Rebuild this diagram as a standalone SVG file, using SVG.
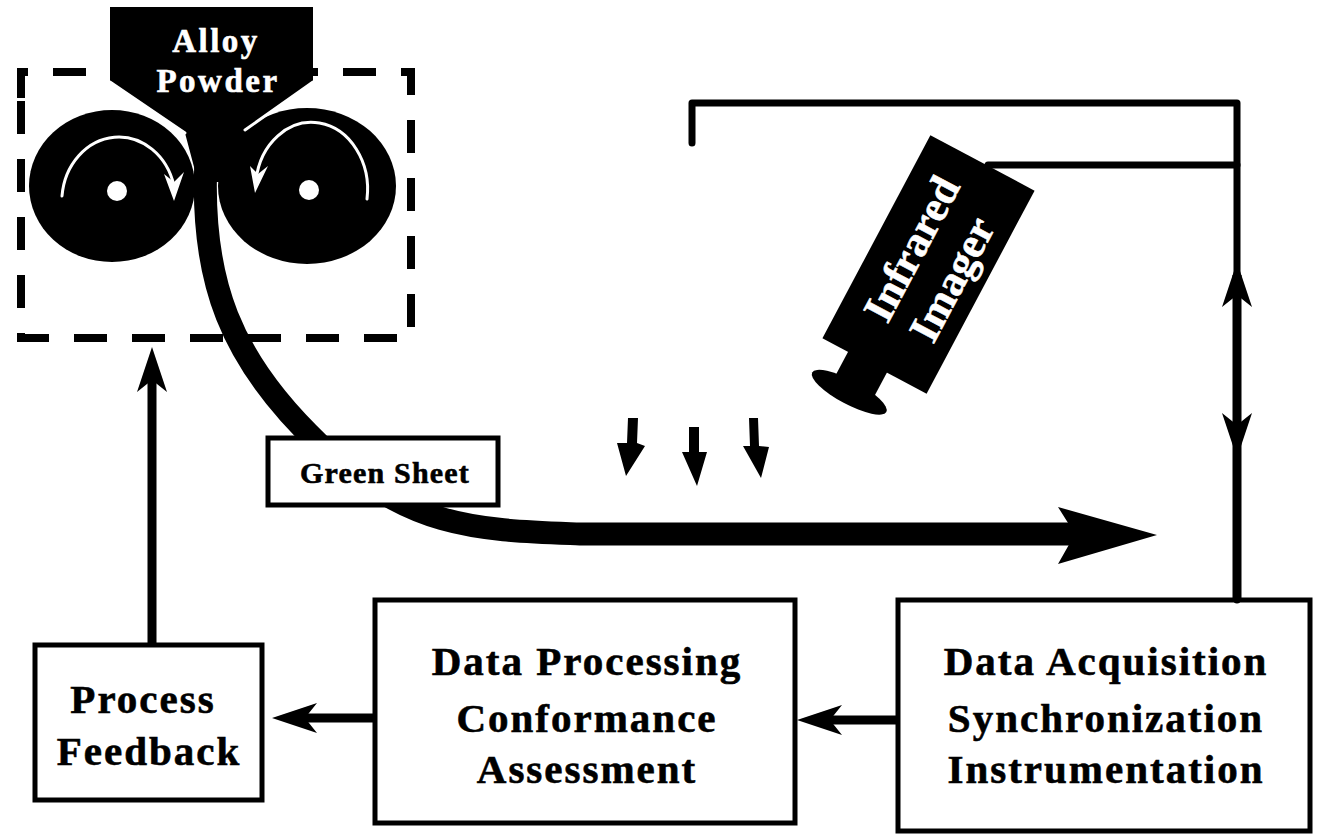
<svg xmlns="http://www.w3.org/2000/svg" xmlns:xlink="http://www.w3.org/1999/xlink" width="1319" height="835" viewBox="0 0 1319 835">
  <style>
    .box { fill: #fff; stroke: #000; stroke-width: 5; }
    .lbl { font-family: "Liberation Serif", "Times New Roman", serif; font-weight: bold; text-anchor: middle; fill: #000; stroke: #000; stroke-width: 0.6; }
    .inv { fill: #fff; stroke: #fff; }
    .big { font-size: 41px; letter-spacing: 2px; }
    .wire { fill: none; stroke: #000; stroke-width: 7; stroke-linecap: round; stroke-linejoin: round; }
    .shaft { fill: none; stroke: #000; stroke-width: 9; }
    .white { fill: none; stroke: #fff; stroke-width: 3; stroke-linecap: round; }
  </style>
  <defs>
    <!-- arrowhead pointing along +x, tip at origin -->
    <path id="head" d="M0 0 L-45 -15 L-33 0 L-45 15 Z" fill="#000"/>
  </defs>
  <rect width="1319" height="835" fill="#fff"/>

  <!-- roll compaction station -->
  <g id="roll-station">
    <path d="M21 98 L21 72 L411 72 L411 338 L21 338 Z" fill="none" stroke="#000" stroke-width="8" stroke-dasharray="33 25"/>
    <ellipse cx="112" cy="186" rx="83" ry="76" fill="#000"/>
    <ellipse cx="307" cy="186" rx="89" ry="78" fill="#000"/>
    <circle cx="117" cy="191" r="10" fill="#fff"/>
    <circle cx="309" cy="190" r="10" fill="#fff"/>
    <!-- rotation arrows -->
    <path class="white" d="M62 196 A57 65 0 0 1 174 186"/>
    <path d="M174 201 L164 174 L174 182 L184 172 Z" fill="#fff"/>
    <path class="white" d="M367 199 A56 67 0 0 0 256 180"/>
    <path d="M255 193 L250 166 L258 174 L268 166 Z" fill="#fff"/>
  </g>

  <!-- powder hopper -->
  <g id="hopper">
    <polygon points="110,7 313,7 313,82 245,130 224,182 198,182 185,133 110,82" fill="#000"/>
    <line class="white" x1="110" y1="82" x2="185" y2="133"/>
    <line class="white" x1="313" y1="82" x2="245" y2="130"/>
    <text class="lbl inv" x="216" y="52" font-size="33" letter-spacing="2.5">Alloy</text>
    <text class="lbl inv" x="218" y="92" font-size="33" letter-spacing="2.5">Powder</text>
  </g>

  <!-- green sheet leaving the rolls -->
  <g id="sheet">
    <path d="M206 160 C200 280 230 360 320 445 S480 530 580 534 L1078 534" fill="none" stroke="#000" stroke-width="23"/>
    <path d="M1157 535 L1058 507 L1075 534 L1058 564 Z" fill="#000"/>
  </g>

  <g id="green-sheet-label">
    <rect class="box" x="268" y="438" width="230" height="67"/>
    <text class="lbl" x="385" y="483" font-size="30" letter-spacing="1.2">Green Sheet</text>
  </g>

  <!-- heat flux arrows -->
  <g id="heat">
    <polygon points="628,418 638,418 637,443 645,446 626,476 617,443 627,443" fill="#000"/>
    <polygon points="689,427 699,427 699,452 707,452 697,486 682,452 689,452" fill="#000"/>
    <polygon points="749,418 758,418 759,446 769,447 761,478 743,446 750,446" fill="#000"/>
  </g>

  <!-- infrared imager -->
  <g id="imager" transform="translate(928.5 264.5) rotate(28)">
    <rect x="-59" y="-115" width="118" height="230" fill="#000"/>
    <rect x="-30" y="110" width="44" height="34" fill="#000"/>
    <ellipse cx="-10" cy="150" rx="42" ry="12" fill="#000"/>
    <g transform="rotate(-90)">
      <text class="lbl inv" x="6" y="-8" font-size="43">Infrared</text>
      <text class="lbl inv" x="-2" y="42" font-size="43">Imager</text>
    </g>
  </g>

  <!-- process blocks -->
  <g id="process-feedback">
    <rect class="box" x="35" y="645" width="227" height="155"/>
    <text class="lbl big" x="143" y="713">Process</text>
    <text class="lbl big" x="149" y="765">Feedback</text>
  </g>

  <g id="data-processing">
    <rect class="box" x="375" y="600" width="420" height="223"/>
    <text class="lbl big" x="587" y="675">Data Processing</text>
    <text class="lbl big" x="587" y="732">Conformance</text>
    <text class="lbl big" x="587" y="783">Assessment</text>
  </g>

  <g id="data-acquisition">
    <rect class="box" x="898" y="600" width="412" height="231"/>
    <text class="lbl big" x="1106" y="675">Data Acquisition</text>
    <text class="lbl big" x="1106" y="732">Synchronization</text>
    <text class="lbl big" x="1106" y="783">Instrumentation</text>
  </g>

  <!-- connectors -->
  <g id="connectors">
    <!-- trigger / camera wiring -->
    <path class="wire" d="M692 143 L692 103 L1237 103 L1237 600"/>
    <path class="wire" d="M988 165 L1237 165"/>
    <line x1="1237" y1="275" x2="1237" y2="600" stroke="#000" stroke-width="9"/>
    <use xlink:href="#head" transform="translate(1237 262) rotate(-90)"/>
    <use xlink:href="#head" transform="translate(1237 458) rotate(90)"/>
    <!-- acquisition to processing -->
    <line class="shaft" x1="815" y1="720" x2="898" y2="720"/>
    <use xlink:href="#head" transform="translate(797 720) rotate(180)"/>
    <!-- processing to feedback -->
    <line class="shaft" x1="290" y1="718" x2="375" y2="718"/>
    <use xlink:href="#head" transform="translate(272 718) rotate(180)"/>
    <!-- feedback to roll station -->
    <line class="shaft" x1="152" y1="365" x2="152" y2="645"/>
    <use xlink:href="#head" transform="translate(152 347) rotate(-90)"/>
  </g>
</svg>
